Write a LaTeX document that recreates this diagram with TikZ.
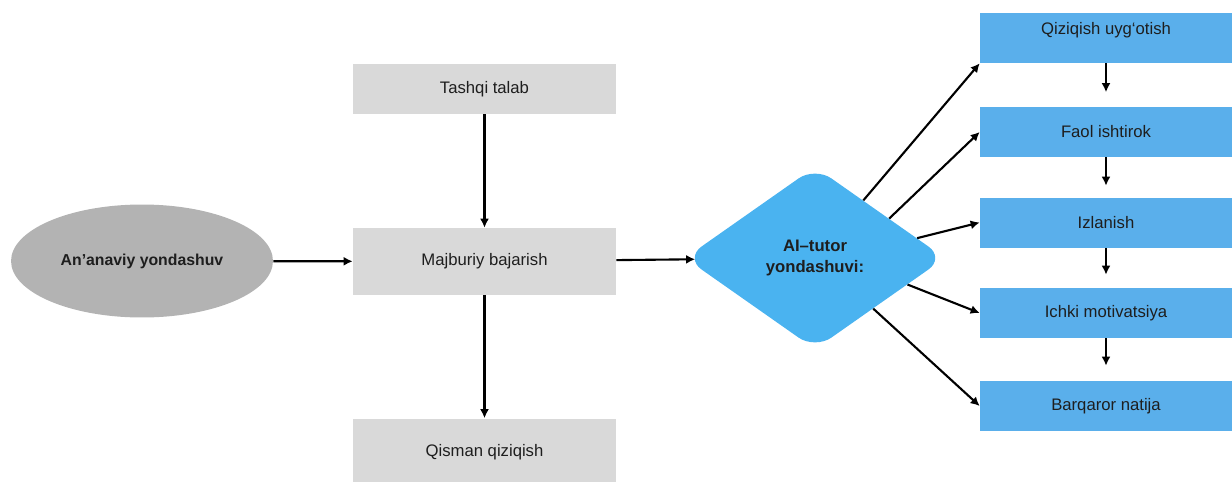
\documentclass[tikz,border=0pt]{standalone}
\usepackage{fontspec}
\setmainfont{Liberation Sans}
\usetikzlibrary{shapes.geometric,arrows.meta}
\definecolor{boxgray}{HTML}{D9D9D9}
\definecolor{ovalgray}{HTML}{B3B3B3}
\definecolor{diamblue}{HTML}{4AB3F0}
\definecolor{stepblue}{HTML}{5AAFEB}
\definecolor{inkgray}{HTML}{1E1E1E}

\begin{document}
\begin{tikzpicture}[x=0.02cm, y=-0.02cm]
  \tikzset{GrayBox/.style = {
  shape = rectangle,
  fill = boxgray,
  text = inkgray,
  inner sep = 0pt,
  minimum width = 5.26cm,
  font = \fontsize{9.5}{11}\selectfont},
  BlueBox/.style = {
  shape = rectangle,
  fill = stepblue,
  text = inkgray,
  inner sep = 0pt,
  minimum width = 5.04cm,
  minimum height = 1cm,
  font = \fontsize{9.5}{11}\selectfont},
  Arr/.style = {
  draw = black,
  line width = 1.2pt,
  -{Latex[length=1.8mm,width=1.8mm]}}}
  \clip (0,0) rectangle (1232,481);
  \node [shape=ellipse, fill=ovalgray, minimum width=5.24cm, minimum height=2.26cm,
    inner sep=0pt, text=inkgray, font=\bfseries\fontsize{9}{11}\selectfont]
    (Old) at (142,261) {An’anaviy yondashuv};
  \node [GrayBox, minimum height=1cm] (Tashqi) at (484.5,89) {Tashqi talab};
  \node [GrayBox, minimum height=1.34cm] (Majburiy) at (484.5,261.5) {Majburiy bajarish};
  \node [GrayBox, minimum height=1.34cm] (Qisman) at (484.5,452) {Qisman qiziqish};
  \node [shape=diamond, fill=diamblue, minimum width=5.2cm, minimum height=3.65cm,
    inner sep=0pt, rounded corners=0.4cm, align=center, text=inkgray,
    font=\bfseries\fontsize{9.5}{12}\selectfont]
    (AI) at (815,258) {AI–tutor\\yondashuvi:};
  \node [BlueBox, text height=0.42cm, text depth=0.58cm] (Q1) at (1106,38) {Qiziqish uyg‘otish};
  \node [BlueBox] (Q2) at (1106,132) {Faol ishtirok};
  \node [BlueBox] (Q3) at (1106,222.5) {Izlanish};
  \node [BlueBox] (Q4) at (1106,313) {Ichki motivatsiya};
  \node [BlueBox] (Q5) at (1106,406) {Barqaror natija};
  \draw [Arr] (Old) -- (Majburiy);
  \draw [Arr] (Tashqi) -- (Majburiy);
  \draw [Arr] (Majburiy) -- (Qisman);
  \draw [Arr, shorten >=-0.17cm] (Majburiy) -- (AI);
  \draw [Arr] (AI.50) -- (Q1.south west);
  \draw [Arr] (AI.28) -- (Q2.west);
  \draw [Arr] (AI.11) -- (Q3.west);
  \draw [Arr] (AI.-16) -- (Q4.west);
  \draw [Arr] (AI.-41) -- (Q5.west);
  \draw [Arr, shorten >=0.29cm] (Q1) -- (Q2);
  \draw [Arr, shorten >=0.23cm] (Q2) -- (Q3);
  \draw [Arr, shorten >=0.26cm] (Q3) -- (Q4);
  \draw [Arr, shorten >=0.3cm] (Q4) -- (Q5);
\end{tikzpicture}
\end{document}
